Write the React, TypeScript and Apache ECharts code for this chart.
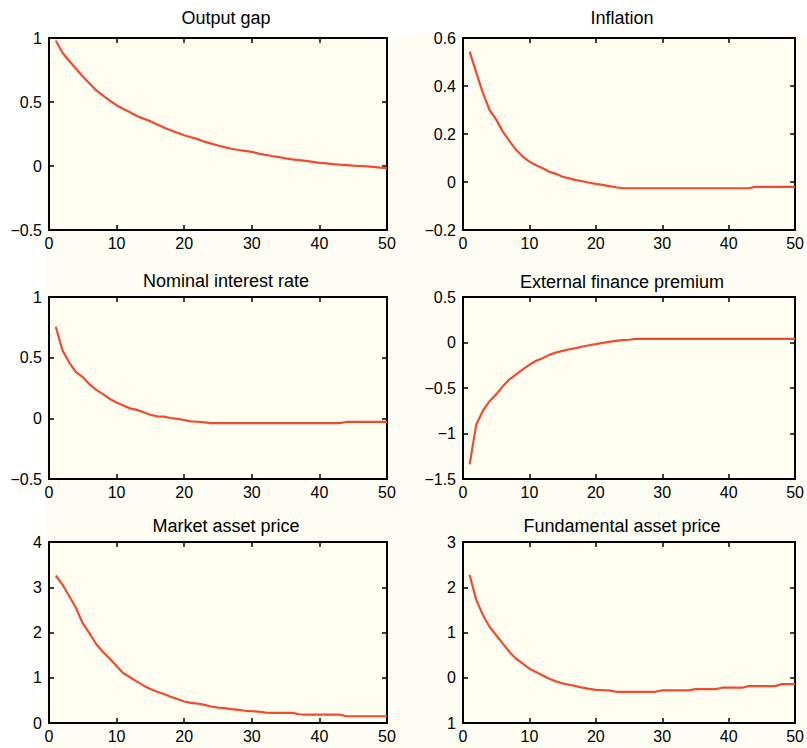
import React, { useEffect, useRef } from "react";
import * as echarts from "echarts";

const periods = Array.from({ length: 50 }, (_, i) => i + 1);
const xTicks = { min: 0, max: 50, interval: 10 };

const titles = [
  "Output gap",
  "Inflation",
  "Nominal interest rate",
  "External finance premium",
  "Market asset price",
  "Fundamental asset price",
];

const outputGap = [
  0.98, 0.885, 0.82, 0.76, 0.7, 0.645, 0.59, 0.55, 0.51, 0.475,
  0.445, 0.42, 0.39, 0.37, 0.35, 0.325, 0.3, 0.28, 0.26, 0.24,
  0.225, 0.21, 0.19, 0.175, 0.16, 0.147, 0.135, 0.125, 0.118, 0.11,
  0.097, 0.087, 0.078, 0.07, 0.06, 0.052, 0.046, 0.04, 0.032, 0.025,
  0.02, 0.014, 0.01, 0.007, 0.003, 0.0, -0.003, -0.007, -0.012, -0.016,
];

const inflation = [
  0.543, 0.456, 0.37, 0.3, 0.26, 0.21, 0.17, 0.134, 0.106, 0.085,
  0.07, 0.057, 0.043, 0.034, 0.022, 0.015, 0.008, 0.003, -0.003, -0.008,
  -0.012, -0.017, -0.022, -0.026, -0.026, -0.026, -0.026, -0.026, -0.026, -0.026,
  -0.026, -0.026, -0.026, -0.026, -0.026, -0.026, -0.026, -0.026, -0.026, -0.026,
  -0.026, -0.026, -0.026, -0.02, -0.02, -0.02, -0.02, -0.02, -0.02, -0.02,
];

const interestRate = [
  0.755, 0.56, 0.46, 0.38, 0.34, 0.28, 0.235, 0.2, 0.16, 0.13,
  0.105, 0.082, 0.07, 0.05, 0.03, 0.016, 0.014, 0.003, -0.005, -0.014,
  -0.025, -0.028, -0.033, -0.04, -0.04, -0.04, -0.04, -0.04, -0.04, -0.04,
  -0.04, -0.04, -0.04, -0.04, -0.04, -0.04, -0.04, -0.04, -0.04, -0.04,
  -0.04, -0.04, -0.04, -0.03, -0.03, -0.03, -0.03, -0.03, -0.03, -0.03,
];

const financePremium = [
  -1.34, -0.9, -0.75, -0.645, -0.57, -0.48, -0.405, -0.35, -0.295, -0.246,
  -0.2, -0.173, -0.136, -0.11, -0.092, -0.074, -0.062, -0.044, -0.03, -0.018,
  -0.004, 0.007, 0.018, 0.026, 0.03, 0.04, 0.04, 0.04, 0.04, 0.04,
  0.04, 0.04, 0.04, 0.04, 0.04, 0.04, 0.04, 0.04, 0.04, 0.04,
  0.04, 0.04, 0.04, 0.04, 0.04, 0.04, 0.04, 0.04, 0.04, 0.04,
];

const marketPrice = [
  3.26, 3.06, 2.8, 2.54, 2.2, 1.98, 1.74, 1.57, 1.42, 1.26,
  1.1, 1.01, 0.915, 0.825, 0.75, 0.69, 0.64, 0.58, 0.53, 0.475,
  0.446, 0.43, 0.4, 0.365, 0.34, 0.327, 0.305, 0.29, 0.27, 0.26,
  0.253, 0.23, 0.223, 0.223, 0.223, 0.223, 0.193, 0.186, 0.186, 0.186,
  0.186, 0.186, 0.186, 0.149, 0.149, 0.149, 0.149, 0.149, 0.149, 0.149,
];

const fundamentalPrice = [
  2.27, 1.72, 1.385, 1.126, 0.94, 0.755, 0.57, 0.42, 0.31, 0.2,
  0.126, 0.052, -0.022, -0.08, -0.126, -0.155, -0.185, -0.22, -0.245, -0.267,
  -0.274, -0.28, -0.31, -0.31, -0.31, -0.31, -0.31, -0.31, -0.31, -0.28,
  -0.28, -0.28, -0.28, -0.28, -0.25, -0.25, -0.25, -0.25, -0.22, -0.22,
  -0.22, -0.22, -0.185, -0.185, -0.185, -0.185, -0.185, -0.14, -0.14, -0.14,
];

const seriesValues = [outputGap, inflation, interestRate, financePremium, marketPrice, fundamentalPrice];

const yTicks = [
  { min: -0.5, max: 1, interval: 0.5 },
  { min: -0.2, max: 0.6, interval: 0.2 },
  { min: -0.5, max: 1, interval: 0.5 },
  { min: -1.5, max: 0.5, interval: 0.5 },
  { min: 0, max: 4, interval: 1 },
  { min: -1, max: 3, interval: 1 },
];

const grids = [
  { left: 49, top: 38, width: 338, height: 192 },
  { left: 463, top: 38, width: 337, height: 192 },
  { left: 49, top: 297, width: 338, height: 182 },
  { left: 463, top: 297, width: 337, height: 182 },
  { left: 49, top: 542, width: 338, height: 181 },
  { left: 463, top: 542, width: 337, height: 181 },
];

const titlePos = [
  { x: 226, y: 18 },
  { x: 622, y: 18 },
  { x: 226, y: 281 },
  { x: 622, y: 282 },
  { x: 226, y: 526 },
  { x: 622, y: 526 },
];

const FONT = "Liberation Sans, Arial, Helvetica, sans-serif";
const LINE_COLOR = "#F24A30";

function fmt(v: number, panel: number): string {
  if (panel === 5 && v === -1) return "1";
  const s = String(Math.round(v * 10) / 10);
  return s.replace("-", "\u2212");
}

export default function App() {
  const ref = useRef<HTMLDivElement>(null);

  useEffect(() => {
    document.body.style.margin = "0";
    if (!ref.current) return;
    const chart = echarts.init(ref.current, null, { renderer: "svg" });

    const axisLine = { show: true, onZero: false, lineStyle: { color: "#000", width: 2 } };
    const axisTick = { show: true, inside: true, length: 5, lineStyle: { color: "#000", width: 1.5 } };

    const xAxis: any[] = [];
    const yAxis: any[] = [];
    const series: any[] = [];

    grids.forEach((_, i) => {
      xAxis.push({
        type: "value",
        gridIndex: i,
        position: "bottom",
        ...xTicks,
        axisLine,
        axisTick,
        splitLine: { show: false },
        axisLabel: { color: "#000", fontSize: 16, fontFamily: FONT, margin: 5, showMaxLabel: true, showMinLabel: true },
      });
      xAxis.push({
        type: "value",
        gridIndex: i,
        position: "top",
        ...xTicks,
        axisLine,
        axisTick,
        splitLine: { show: false },
        axisLabel: { show: false },
      });
      yAxis.push({
        type: "value",
        gridIndex: i,
        position: "left",
        ...yTicks[i],
        axisLine,
        axisTick,
        splitLine: { show: false },
        axisLabel: {
          color: "#000",
          fontSize: 16,
          fontFamily: FONT,
          margin: 7,
          formatter: (v: number) => fmt(v, i),
        },
      });
      yAxis.push({
        type: "value",
        gridIndex: i,
        position: "right",
        ...yTicks[i],
        axisLine,
        axisTick,
        splitLine: { show: false },
        axisLabel: { show: false },
      });
      series.push({
        type: "line",
        xAxisIndex: 2 * i,
        yAxisIndex: 2 * i,
        data: periods.map((p, k) => [p, seriesValues[i][k]]),
        showSymbol: false,
        symbol: "none",
        lineStyle: { color: LINE_COLOR, width: 2.2 },
        z: 3,
      });
    });

    chart.setOption({
      animation: false,
      backgroundColor: "transparent",
      grid: grids.map((g) => ({
        ...g,
        show: true,
        backgroundColor: "#FFFEF0",
        borderWidth: 0,
        containLabel: false,
      })),
      xAxis,
      yAxis,
      series,
      graphic: titles.map((t, i) => ({
        type: "text",
        x: titlePos[i].x,
        y: titlePos[i].y,
        style: {
          text: t,
          fill: "#000",
          font: `18px ${FONT}`,
          textAlign: "center",
          textVerticalAlign: "middle",
        },
      })),
    });

    return () => chart.dispose();
  }, []);

  return (
    <div style={{ position: "relative", width: 807, height: 748, background: "#FFFFFF" }}>
      <div
        style={{
          position: "absolute",
          left: 46,
          top: 36,
          width: 761,
          height: 712,
          background: "#FDFDF4",
        }}
      />
      <div ref={ref} style={{ position: "absolute", left: 0, top: 0, width: 807, height: 748 }} />
    </div>
  );
}
